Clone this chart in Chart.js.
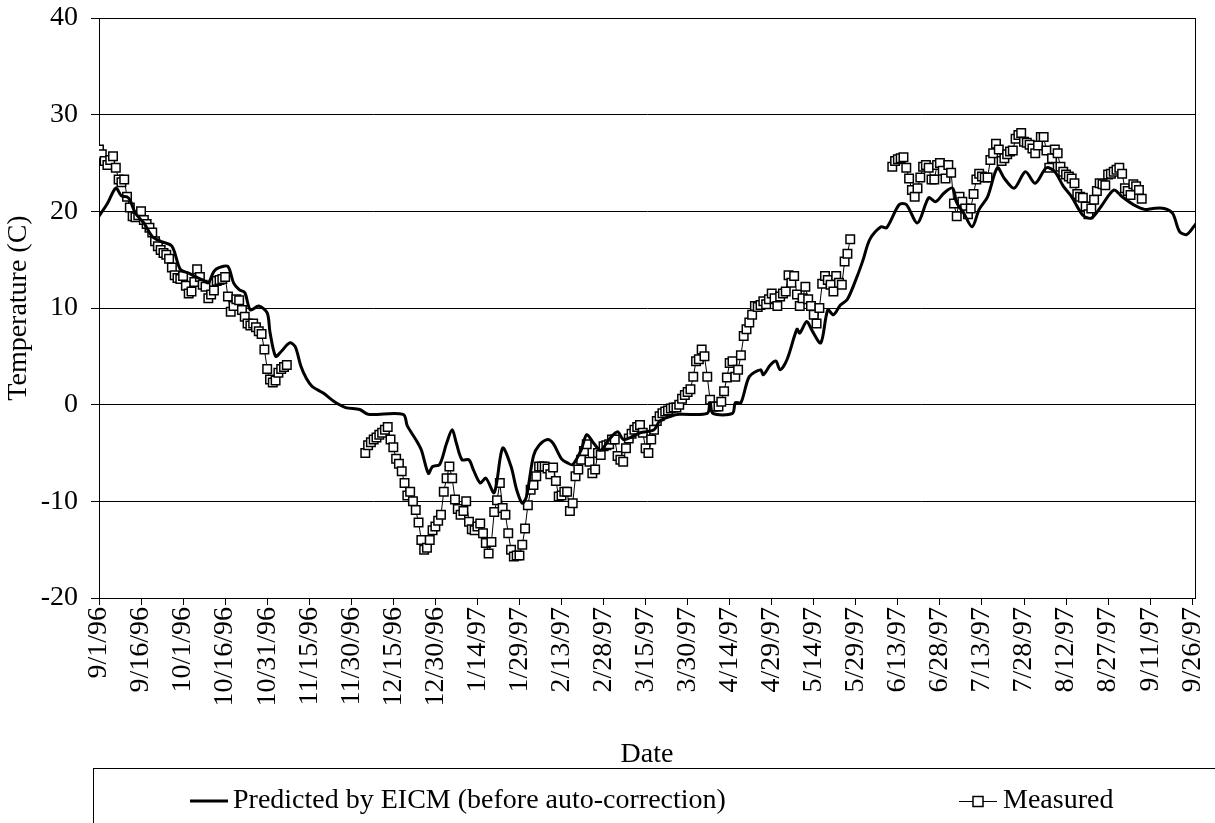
<!DOCTYPE html>
<html>
<head>
<meta charset="utf-8">
<script src="https://cdn.jsdelivr.net/npm/chart.js@4/dist/chart.umd.min.js"></script>
<style>
    html, body { margin: 0; padding: 0; background: #fff; }
    #chart { display: block; }
</style>
</head>
<body>
<canvas id="chart" width="1215" height="823"></canvas>
<script>
// x axis: days since 9/1/96, one tick every 15 days
const tickLabels = ['9/1/96', '9/16/96', '10/1/96', '10/16/96', '10/31/96', '11/15/96', '11/30/96',
    '12/15/96', '12/30/96', '1/14/97', '1/29/97', '2/13/97', '2/28/97', '3/15/97', '3/30/97',
    '4/14/97', '4/29/97', '5/14/97', '5/29/97', '6/13/97', '6/28/97', '7/13/97', '7/28/97',
    '8/12/97', '8/27/97', '9/11/97', '9/26/97'];
const tickStep = 15;
const lastDay = 391;

// Predicted by EICM (day, temperature)
const predDays = [0, 3, 6, 8, 10, 11, 13, 16, 19, 22, 26, 29, 32, 34, 37, 39, 41, 43, 46, 48, 50, 52, 54, 57, 60, 61, 63, 65, 68, 70,
    72, 74, 76, 80, 84, 88, 93, 96, 108.5, 110, 113, 115, 117.5, 119, 121.5, 124, 126, 127.5, 129.5, 132, 133.5, 136, 138, 141, 144,
    147, 149, 151, 152.5, 155, 157, 160, 162, 165, 167, 169, 172, 174, 176.5, 179, 182, 185, 187, 189.5, 193, 198, 200, 204, 207,
    217, 218, 219, 226, 227, 229, 232, 236, 237, 239.5, 241.5, 243, 245.5, 249, 250, 252.5, 254.5, 257.5, 260, 262, 264.5, 267,
    270.5, 272.5, 275, 279, 281, 285.5, 288, 292, 296, 298.5, 301.5, 304.5, 306, 308.5, 311.5, 314, 317, 320.5, 323, 326.5, 330.5,
    334, 338, 341, 344, 347, 351, 354, 357.5, 362, 365, 369, 373, 376, 380, 383, 385.5, 388, 390.5, 392];
const predTemps = [19.5, 20.8, 22.4, 21.6, 21.5, 21.2, 19.8, 18.8, 17.4, 16.9, 16.4, 14.0, 13.6, 13.3, 12.9, 12.6, 13.8, 14.2, 14.3,
    12.6, 11.9, 11.6, 9.8, 10.2, 9.5, 7.5, 5.0, 5.5, 6.4, 6.0, 4.0, 2.7, 1.9, 1.2, 0.3, -0.3, -0.5, -1.0, -1.0, -2.2, -3.6, -4.7,
    -7.1, -6.4, -6.2, -4.0, -2.6, -4.0, -5.7, -5.7, -6.7, -8.1, -7.6, -9.1, -4.5, -6.4, -8.8, -10.2, -9.5, -5.3, -4.2, -3.6, -4.0,
    -5.6, -6.0, -6.2, -4.7, -3.1, -4.0, -4.7, -3.6, -2.8, -3.6, -3.4, -2.9, -2.6, -1.7, -1.2, -1.0, -0.9, 0.2, -0.9, -0.9, 0.2, 0.2,
    2.9, 3.6, 3.1, 4.1, 4.5, 3.6, 4.7, 7.8, 7.4, 8.6, 7.6, 6.4, 9.8, 9.3, 10.3, 10.9, 13.3, 14.9, 17.1, 18.4, 18.3, 20.7, 20.7,
    18.8, 21.4, 21.0, 21.9, 22.4, 20.9, 19.8, 18.4, 20.2, 21.5, 24.5, 23.4, 22.4, 24.1, 22.9, 24.5, 24.1, 22.6, 21.5, 19.6, 19.3,
    20.5, 22.2, 21.5, 20.7, 20.2, 20.3, 20.3, 19.8, 17.9, 17.6, 18.4, 19.0];

// Measured, daily readings in three runs
const measStart1 = 0;
const measVals1 = [26.4, 25.9, 25.2, 24.8, 25.3, 25.7, 24.5, 23.3, 23.0, 23.3, 21.5, 20.4, 19.5, 19.4, 19.6, 20.0, 19.1, 18.7,
    18.3, 17.8, 16.9, 16.4, 16.0, 15.7, 15.5, 15.1, 14.2, 13.4, 13.1, 13.0, 13.3, 12.3, 11.5, 11.7, 12.7, 14.0, 13.2, 12.4, 12.2,
    11.0, 11.4, 11.8, 12.8, 12.9, 13.0, 13.2, 11.2, 9.6, 10.2, 10.9, 10.8, 9.8, 9.1, 8.4, 8.2, 8.4, 8.0, 7.6, 7.3, 5.7, 3.7, 2.6,
    2.3, 2.5, 3.3, 3.7, 3.9, 4.1];
const measStart2 = 95;
const measVals2 = [-5.0, -4.2, -3.9, -3.6, -3.4, -3.1, -2.9, -2.6, -2.3, -3.6, -4.4, -5.6, -6.1, -6.9, -8.1, -9.4, -9.0, -10.0,
    -10.9, -12.2, -14.0, -15.0, -14.8, -14.0, -13.0, -12.6, -12.0, -11.4, -9.0, -7.6, -6.4, -7.6, -9.8, -10.8, -11.4, -11.0, -10.0,
    -12.1, -12.9, -13.0, -12.6, -12.3, -13.3, -14.3, -15.4, -14.2, -11.1, -9.9, -8.1, -10.7, -11.4, -13.3, -15.0, -15.7, -15.6,
    -15.6, -14.5, -12.8, -10.4, -8.8, -8.3, -7.4, -6.4, -6.4, -6.4, -6.6, -7.2, -6.5, -7.9, -9.5, -9.4, -9.0, -9.0, -11.0, -10.2,
    -7.4, -6.7, -5.7, -4.8, -4.1, -5.9, -7.1, -6.7, -5.0, -5.2, -4.3, -4.2, -4.1, -3.6, -3.6, -5.3, -5.7, -5.9, -4.5, -3.5, -3.0,
    -2.6, -2.3, -2.1, -2.9, -4.5, -5.0, -3.6, -2.6, -1.7, -1.2, -0.9, -0.7, -0.6, -0.4, -0.3, -0.3, 0.0, 0.6, 1.0, 1.3, 1.6, 2.9,
    4.5, 4.7, 5.7, 5.0, 2.9, 0.5, -0.2, -0.2, -0.2, 0.3, 1.4, 2.8, 4.3, 4.5, 2.9, 3.6, 5.1, 7.1, 7.8, 8.5, 9.3, 10.2, 10.1, 10.3,
    10.7, 10.4, 10.9, 11.5, 11.0, 10.2, 11.2, 11.5, 11.7, 13.4, 12.6, 13.3, 11.4, 10.2, 11.0, 12.2, 10.9, 10.2, 9.3, 8.4, 10.0,
    12.5, 13.3, 12.9, 12.4, 11.7, 13.3, 12.6, 12.4, 14.8, 15.6, 17.1];
const measStart3 = 283;
const measVals3 = [24.6, 25.2, 25.4, 25.5, 25.6, 24.5, 23.4, 22.2, 21.5, 22.4, 23.5, 24.6, 24.8, 24.5, 23.3, 23.3, 24.8, 25.0,
    24.2, 23.4, 24.8, 24.0, 20.8, 19.5, 21.5, 21.0, 20.3, 19.7, 20.3, 21.8, 23.3, 23.9, 23.6, 23.5, 23.5, 25.3, 26.0, 27.0, 26.4,
    25.2, 25.5, 25.9, 26.2, 26.3, 27.5, 27.9, 28.1, 27.2, 27.1, 26.9, 26.5, 26.0, 26.8, 27.7, 27.7, 26.3, 24.5, 25.5, 26.4, 26.0,
    24.6, 24.1, 23.8, 23.6, 23.4, 22.9, 21.8, 21.5, 21.4, 20.5, 19.7, 20.3, 21.2, 22.1, 22.9, 22.8, 22.7, 23.8, 23.9, 24.1, 24.3,
    24.5, 23.9, 22.4, 22.1, 21.7, 22.8, 22.6, 22.2, 21.3];

const FONT = { family: '"Liberation Serif", "Times New Roman", serif', size: 28 };

function runPoints(start, vals) {
    return vals.map((v, i) => ({ x: start + i, y: v }));
}

const predPoints = predDays.map((d, i) => ({ x: d, y: predTemps[i] }));
const measPoints = [
    ...runPoints(measStart1, measVals1),
    { x: measStart1 + measVals1.length, y: null },
    ...runPoints(measStart2, measVals2),
    { x: measStart2 + measVals2.length, y: null },
    ...runPoints(measStart3, measVals3)
];

// frame round the plot and the boxed legend under the chart
const framePlugin = {
    id: 'frame',
    beforeDatasetsDraw(chart) {
        const { ctx, chartArea: a } = chart;
        ctx.save();
        ctx.strokeStyle = '#000';
        ctx.lineWidth = 1;
        ctx.strokeRect(Math.round(a.left) + 0.5, Math.round(a.top) + 0.5,
            Math.round(a.right - a.left), Math.round(a.bottom - a.top));
        ctx.restore();
    },
    afterDraw(chart) {
        const { ctx } = chart;
        const y = 801;
        ctx.save();
        ctx.strokeStyle = '#000';
        ctx.lineWidth = 1;
        ctx.strokeRect(93.5, 768.5, 1200, 120);

        ctx.lineWidth = 3;
        ctx.beginPath();
        ctx.moveTo(190, y);
        ctx.lineTo(228, y);
        ctx.stroke();

        ctx.lineWidth = 1;
        ctx.beginPath();
        ctx.moveTo(959, y + 0.5);
        ctx.lineTo(997, y + 0.5);
        ctx.stroke();
        ctx.fillStyle = '#fff';
        ctx.lineWidth = 1.5;
        ctx.fillRect(973, y - 4.5, 10, 10);
        ctx.strokeRect(973, y - 4.5, 10, 10);

        ctx.fillStyle = '#000';
        ctx.font = `${FONT.size}px ${FONT.family}`;
        ctx.textBaseline = 'middle';
        ctx.textAlign = 'left';
        ctx.fillText('Predicted by EICM (before auto-correction)', 233, y);
        ctx.fillText('Measured', 1003, y);
        ctx.restore();
    }
};

new Chart(document.getElementById('chart'), {
    type: 'line',
    data: {
        datasets: [
            {
                label: 'Predicted by EICM (before auto-correction)',
                data: predPoints,
                borderColor: '#000',
                borderWidth: 3,
                pointRadius: 0,
                tension: 0.3,
                fill: false
            },
            {
                label: 'Measured',
                data: measPoints,
                borderColor: '#000',
                borderWidth: 1,
                pointStyle: 'rect',
                pointRadius: 6,
                pointBorderWidth: 1.5,
                pointBackgroundColor: '#fff',
                pointBorderColor: '#000',
                spanGaps: false,
                tension: 0,
                fill: false
            }
        ]
    },
    options: {
        responsive: false,
        animation: false,
        layout: { padding: { left: 0, right: 20, top: 18, bottom: 52 } },
        plugins: {
            legend: { display: false },
            tooltip: { enabled: false }
        },
        scales: {
            x: {
                type: 'linear',
                min: 0,
                max: lastDay,
                afterBuildTicks: scale => {
                    scale.ticks = tickLabels.map((t, i) => ({ value: i * tickStep }));
                },
                afterFit: scale => {
                    scale.height = 823 - 598 - 52;
                    scale.paddingLeft = 0;
                    scale.paddingRight = 0;
                },
                ticks: {
                    autoSkip: false,
                    minRotation: 90,
                    maxRotation: 90,
                    padding: 2,
                    color: '#000',
                    font: FONT,
                    callback: (v) => tickLabels[Math.round(v / tickStep)]
                },
                grid: { drawOnChartArea: false, drawTicks: true, tickLength: 7, color: '#000' },
                border: { color: '#000', width: 1 },
                title: { display: true, text: 'Date', color: '#000', font: FONT, padding: { top: 0, bottom: 0 } }
            },
            y: {
                min: -20,
                max: 40,
                afterFit: scale => {
                    scale.width = 99;
                    scale.paddingTop = 0;
                    scale.paddingBottom = 0;
                },
                ticks: { stepSize: 10, padding: 13, color: '#000', font: FONT },
                grid: { color: '#000', lineWidth: 1, tickLength: 8 },
                border: { color: '#000', width: 1 },
                title: { display: true, text: 'Temperature (C)', color: '#000', font: FONT, padding: { top: 2, bottom: 0 } }
            }
        }
    },
    plugins: [framePlugin]
});
</script>
</body>
</html>
